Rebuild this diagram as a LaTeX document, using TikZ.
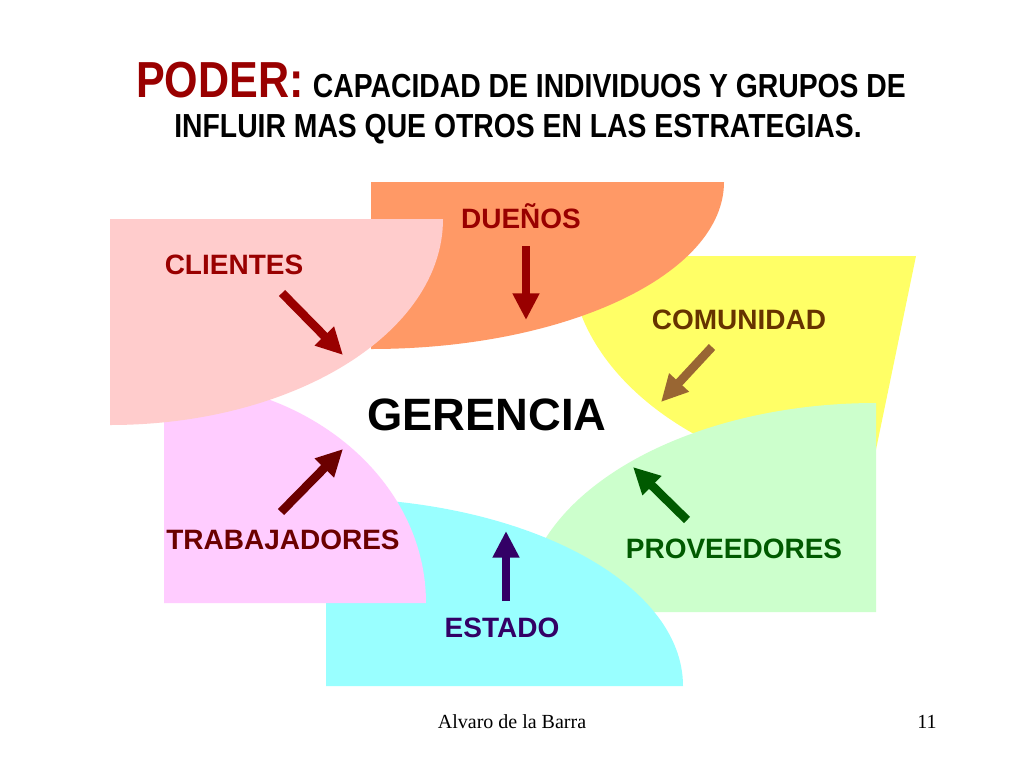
\documentclass[tikz,border=0pt]{standalone}
\usepackage{fontspec}
\setmainfont{Liberation Sans}
\newfontfamily\titlefont[FakeStretch=0.85]{Liberation Sans}
\newfontfamily\footfont{Liberation Serif}
\usetikzlibrary{arrows.meta}
\definecolor{cOrange}{HTML}{FF9966}
\definecolor{cPink}{HTML}{FFCCCC}
\definecolor{cYellow}{HTML}{FFFF66}
\definecolor{cGreen}{HTML}{CCFFCC}
\definecolor{cCyan}{HTML}{99FFFF}
\definecolor{cMagenta}{HTML}{FFCCFF}
\definecolor{dRed}{HTML}{990000}
\definecolor{dMaroon}{HTML}{6B0000}
\definecolor{dBrown}{HTML}{663300}
\definecolor{aBrown}{HTML}{996633}
\definecolor{dIndigo}{HTML}{330066}
\definecolor{dGreen}{HTML}{005A00}
\tikzset{
  lbl/.style={font=\bfseries\fontsize{21}{25}\selectfont, inner sep=0pt, anchor=base},
  blockarrow/.style={line width=6.5pt, -{Triangle[length=20pt,width=19pt]}},
}
\begin{document}
\begin{tikzpicture}[x=0.75pt, y=-0.75pt]
\useasboundingbox[fill=white] (0,0) rectangle (1024,768);
% yellow (COMUNIDAD)
\begin{scope}
  \clip (0,256) -- (916,256) -- (854,556) -- (0,556) -- cycle;
  \fill[cYellow] (916,256) -- (570,256) arc[start angle=180, end angle=90, x radius=346, y radius=232] -- cycle;
\end{scope}
% green (PROVEEDORES)
\fill[cGreen] (876,612) -- (876,403) arc[start angle=-90, end angle=-180, x radius=353, y radius=209] -- cycle;
% cyan (ESTADO)
\fill[cCyan] (326,686) -- (326,498) arc[start angle=-90, end angle=0, x radius=357, y radius=188] -- cycle;
% magenta (TRABAJADORES)
\fill[cMagenta] (164,603) -- (164,381) arc[start angle=-90, end angle=0, x radius=262, y radius=222] -- cycle;
% orange (DUENOS)
\fill[cOrange] (371,182) -- (724,182) arc[start angle=0, end angle=90, x radius=353, y radius=167] -- cycle;
% pink (CLIENTES)
\fill[cPink] (110,219) -- (443,219) arc[start angle=0, end angle=90, x radius=333, y radius=206] -- cycle;

% title
\node[inner sep=0pt, anchor=base] (t1) at (521,97)
  {\titlefont\bfseries{\color{dRed}\fontsize{38}{40}\selectfont PODER:}\hspace{7pt}\fontsize{25}{30}\selectfont CAPACIDAD DE INDIVIDUOS Y GRUPOS DE};
\node[inner sep=0pt, anchor=base] (t2) at (518,137)
  {\titlefont\bfseries\fontsize{25}{30}\selectfont INFLUIR MAS QUE OTROS EN LAS ESTRATEGIAS.};

% labels
\node[lbl, text=dRed] (duenos) at (521,228) {DUEÑOS};
\node[lbl, text=dRed] (clientes) at (234,274) {CLIENTES};
\node[lbl, text=dBrown] (comunidad) at (739,329) {COMUNIDAD};
\node[lbl, text=dMaroon] (trab) at (283,549) {TRABAJADORES};
\node[lbl, text=dIndigo] (estado) at (502,637) {ESTADO};
\node[lbl, text=dGreen] (prov) at (734,558) {PROVEEDORES};
\node[inner sep=0pt, anchor=base, font=\bfseries\fontsize{34}{40}\selectfont] (ger) at (487,430) {GERENCIA};

% arrows
\coordinate (a1s) at (526,246); \coordinate (a1e) at (526,320);
\coordinate (a2s) at (282,293); \coordinate (a2e) at (343,355);
\coordinate (a3s) at (712,347); \coordinate (a3e) at (661,402);
\coordinate (a4s) at (281,512); \coordinate (a4e) at (343,449);
\coordinate (a5s) at (506,601); \coordinate (a5e) at (506,531);
\coordinate (a6s) at (687,520); \coordinate (a6e) at (633,467);
\draw[blockarrow, dRed] (a1s) -- (a1e);
\draw[blockarrow, dRed] (a2s) -- (a2e);
\draw[blockarrow, aBrown] (a3s) -- (a3e);
\draw[blockarrow, dMaroon] (a4s) -- (a4e);
\draw[blockarrow, dIndigo] (a5s) -- (a5e);
\draw[blockarrow, dGreen] (a6s) -- (a6e);

% footer
\node[inner sep=0pt, anchor=base, font=\footfont\fontsize{15}{18}\selectfont] (author) at (512,728) {Alvaro de la Barra};
\node[inner sep=0pt, anchor=base, font=\footfont\fontsize{15}{18}\selectfont] (page) at (927,728) {11};
\end{tikzpicture}
\end{document}
